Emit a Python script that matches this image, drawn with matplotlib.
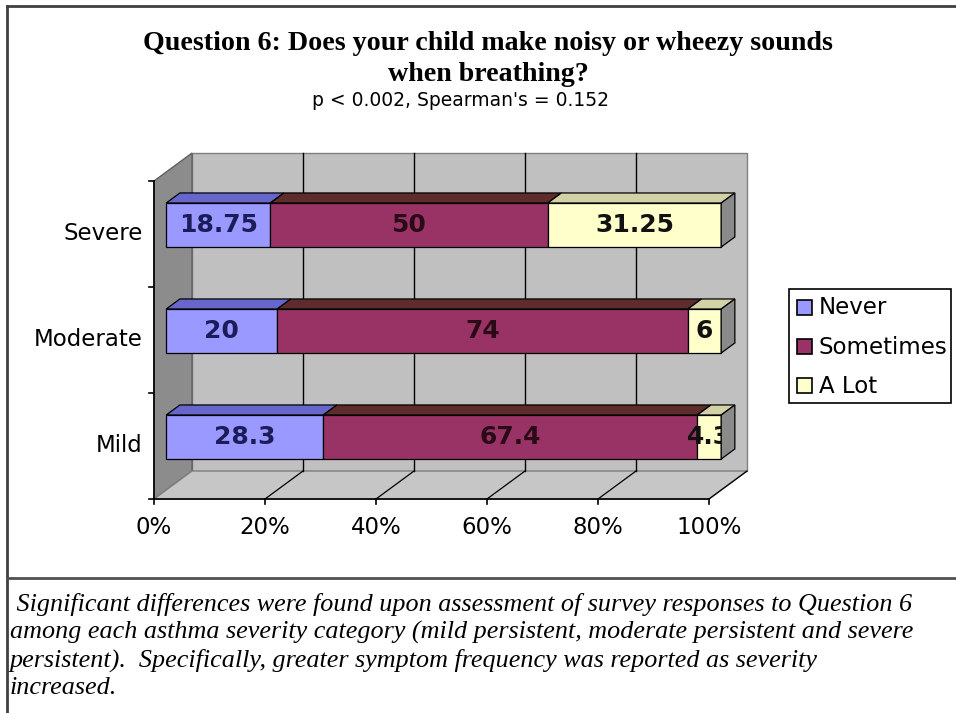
import matplotlib
matplotlib.use("Agg")
import matplotlib.pyplot as plt
from matplotlib.patches import Polygon, Rectangle
from matplotlib.lines import Line2D

# ---- data -------------------------------------------------------------
categories = ["Mild", "Moderate", "Severe"]          # bottom to top
series_names = ["Never", "Sometimes", "A Lot"]
never = [28.3, 20, 18.75]
sometimes = [67.4, 74, 50]
a_lot = [4.3, 6, 31.25]
value_labels = [["28.3", "20", "18.75"],
                ["67.4", "74", "50"],
                ["4.3", "6", "31.25"]]
x_ticks = [0, 20, 40, 60, 80, 100]
x_tick_labels = ["0%", "20%", "40%", "60%", "80%", "100%"]

title = "Question 6: Does your child make noisy or wheezy sounds\nwhen breathing?"
subtitle = "p < 0.002, Spearman's = 0.152"
caption = [" Significant differences were found upon assessment of survey responses to Question 6",
           "among each asthma severity category (mild persistent, moderate persistent and severe",
           "persistent).  Specifically, greater symptom frequency was reported as severity",
           "increased."]

# ---- style ------------------------------------------------------------
front_colors = ["#9999ff", "#993366", "#ffffcc"]
top_colors = ["#6666cc", "#5e2c2c", "#d2d2a6"]
label_colors = ["#1c1c5a", "#2a0a16", "#111111"]
cap_color = "#8a8a8a"

W, H = 956, 713
fig = plt.figure(figsize=(W / 100, H / 100), dpi=100)
fig.patch.set_facecolor("white")


def fx(px):
    return px / W


def fy(py):
    return 1 - py / H


# plot area: front plane of the value axis (0..100) by category axis (0..3)
ax = fig.add_axes([fx(154), fy(499), fx(709) - fx(154), fy(181) - fy(499)])
ax.set_xlim(0, 100)
ax.set_ylim(0, len(categories))
ax.axis("off")

# oblique depth offset in data units (full depth of the box)
DX, DY = 6.85, 0.264


def P(x, y, d):
    return (x + d * DX, y + d * DY)


def poly(pts, fc, ec="black", lw=0.9, z=1):
    ax.add_patch(Polygon(pts, closed=True, facecolor=fc, edgecolor=ec,
                         linewidth=lw, zorder=z, clip_on=False))


ncat = len(categories)
# walls and floor
poly([P(0, 0, 1), P(100, 0, 1), P(100, ncat, 1), P(0, ncat, 1)], "#c0c0c0", "#808080", 1.0, 1)
poly([P(0, 0, 0), P(0, 0, 1), P(0, ncat, 1), P(0, ncat, 0)], "#8c8c8c", "#606060", 1.0, 1)
poly([P(0, 0, 0), P(100, 0, 0), P(100, 0, 1), P(0, 0, 1)], "#c6c6c6", "#808080", 1.0, 1)

# gridlines on back wall and floor
for t in x_ticks[1:-1]:
    x0, y0 = P(t, 0, 1)
    x1, y1 = P(t, ncat, 1)
    ax.add_line(Line2D([x0, x1], [y0, y1], color="black", lw=1.0, zorder=2, clip_on=False))
for t in x_ticks[1:]:
    x0, y0 = P(t, 0, 0)
    x1, y1 = P(t, 0, 1)
    ax.add_line(Line2D([x0, x1], [y0, y1], color="black", lw=0.9, zorder=2, clip_on=False))

# axes lines with tick marks
ax.add_line(Line2D([0, 100], [0, 0], color="black", lw=1.2, zorder=3, clip_on=False))
ax.add_line(Line2D([0, 0], [0, ncat], color="black", lw=1.2, zorder=3, clip_on=False))
for t in x_ticks:
    ax.add_line(Line2D([t, t], [0, -0.05], color="black", lw=1.2, zorder=3, clip_on=False))
for k in range(ncat + 1):
    ax.add_line(Line2D([0, -0.9], [k, k], color="black", lw=1.2, zorder=3, clip_on=False))

# stacked 3-D bars
values = [never, sometimes, a_lot]
bar_h = 0.415
d0, d1 = 0.32, 0.68
for i in range(ncat):
    yc = i + 0.5
    yb, yt = yc - bar_h / 2, yc + bar_h / 2
    left = 0.0
    for s in range(len(values)):
        v = values[s][i]
        x0, x1 = left, left + v
        poly([P(x0, yt, d0), P(x1, yt, d0), P(x1, yt, d1), P(x0, yt, d1)], top_colors[s], z=4)
        poly([P(x0, yb, d0), P(x1, yb, d0), P(x1, yt, d0), P(x0, yt, d0)], front_colors[s], z=5)
        lx, ly = P((x0 + x1) / 2, yc, d0)
        ax.text(lx, ly, value_labels[s][i], ha="center", va="center", fontsize=18,
                fontweight="bold", color=label_colors[s], zorder=6, clip_on=False)
        left = x1
    poly([P(left, yb, d0), P(left, yt, d0), P(left, yt, d1), P(left, yb, d1)], cap_color, z=7)

# axis labels
for k, name in enumerate(categories):
    ax.text(-2.0, k + 0.5, name, ha="right", va="center", fontsize=16.5, color="black")
for t, lab in zip(x_ticks, x_tick_labels):
    ax.text(t, -0.265, lab, ha="center", va="center", fontsize=16.5, color="black")

# titles
fig.text(fx(488), fy(59), title, ha="center", va="center", fontsize=20.2,
         fontweight="bold", family="Liberation Serif", linespacing=1.3)
fig.text(fx(461), fy(101), subtitle, ha="center", va="center", fontsize=13.5)

# legend
fig.patches.append(Rectangle((fx(789), fy(403)), fx(951) - fx(789), fy(289) - fy(403),
                             transform=fig.transFigure, facecolor="white",
                             edgecolor="black", linewidth=1.2))
for s, name in enumerate(series_names):
    cy = 308 + 39 * s
    fig.patches.append(Rectangle((fx(797), fy(cy + 7)), fx(15), fy(0) - fy(15),
                                 transform=fig.transFigure, facecolor=front_colors[s],
                                 edgecolor="black", linewidth=1.2))
    fig.text(fx(819), fy(cy), name, ha="left", va="center", fontsize=16.5)

# outer frame and caption separator
fig.add_artist(Line2D([fx(7), fx(7)], [fy(6), fy(713)], color="#404040", lw=2))
fig.add_artist(Line2D([fx(7), fx(956)], [fy(6), fy(6)], color="#404040", lw=2))
fig.add_artist(Line2D([fx(7), fx(956)], [fy(578), fy(578)], color="#505050", lw=2))

# caption
for j, line in enumerate(caption):
    fig.text(fx(10), fy(604 + 28 * j), line, ha="left", va="center", fontsize=18.8,
             style="italic", family="Liberation Serif")

fig.savefig("out.png", dpi=100)
